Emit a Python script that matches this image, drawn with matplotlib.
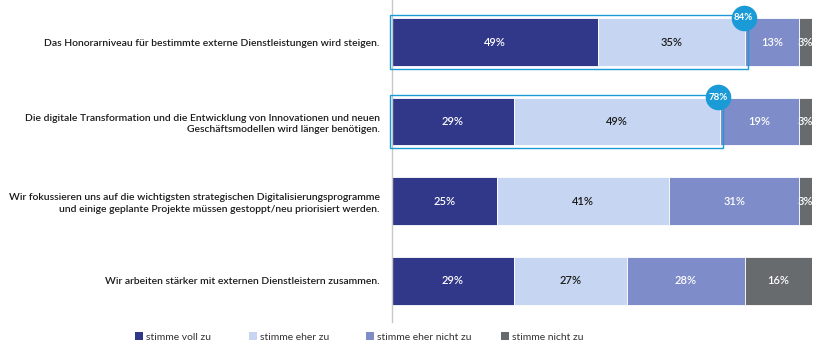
import matplotlib
matplotlib.use("Agg")
import matplotlib.pyplot as plt
from matplotlib.patches import Rectangle, Patch

plt.rcParams['font.family'] = ['Lato', 'DejaVu Sans']

categories = [
    "Das Honorarniveau für bestimmte externe Dienstleistungen wird steigen.",
    "Die digitale Transformation und die Entwicklung von Innovationen und neuen\nGeschäftsmodellen wird länger benötigen.",
    "Wir fokussieren uns auf die wichtigsten strategischen Digitalisierungsprogramme\nund einige geplante Projekte müssen gestoppt/neu priorisiert werden.",
    "Wir arbeiten stärker mit externen Dienstleistern zusammen.",
]
series_names = ["stimme voll zu", "stimme eher zu", "stimme eher nicht zu", "stimme nicht zu"]
voll_zu = [49, 29, 25, 29]
eher_zu = [35, 49, 41, 27]
eher_nicht_zu = [13, 19, 31, 28]
nicht_zu = [3, 3, 3, 16]
highlight_totals = [84, 78]  # for first two rows

colors = ["#31388a", "#c6d6f2", "#7e8cc9", "#676b6d"]
text_colors = ["white", "#1a1a1a", "white", "white"]

fig = plt.figure(figsize=(8.13, 3.55), dpi=100)
W, H = 813, 355
ax = fig.add_axes([392 / W, 1 - 322 / H, 420 / W, 322 / H])

series = [voll_zu, eher_zu, eher_nicht_zu, nicht_zu]
ys = list(range(len(categories)))
bh = 0.6
left = [0] * len(categories)
for s, vals in enumerate(series):
    ax.barh(ys, vals, left=left, height=bh, color=colors[s], edgecolor="white", linewidth=0.6)
    for i, v in enumerate(vals):
        ax.text(left[i] + v / 2, ys[i], f"{v}%", ha="center", va="center",
                color=text_colors[s], fontsize=8, fontweight="semibold")
    left = [l + v for l, v in zip(left, vals)]

# highlight boxes
for i, tot in enumerate(highlight_totals):
    pad = 0.035
    ax.add_patch(Rectangle((-0.5, ys[i] - bh / 2 - pad), tot + 1.3, bh + 2 * pad,
                           fill=False, edgecolor="#1b9ad8", linewidth=1.0, clip_on=False, zorder=5))
    ax.scatter([tot - 0.3], [ys[i] - bh / 2 - pad + 0.03], s=340, color="#1b9ad8",
               zorder=6, clip_on=False, linewidths=0)
    ax.text(tot - 0.3, ys[i] - bh / 2 - pad + 0.03, f"{tot}%", ha="center", va="center",
            color="white", fontsize=7, fontweight="bold", zorder=7)

ax.set_xlim(0, 100)
ax.set_ylim(3.52, -0.528)
for sp in ["top", "right", "bottom"]:
    ax.spines[sp].set_visible(False)
ax.spines["left"].set_color("#c8c8c8")
ax.spines["left"].set_linewidth(1.0)
ax.set_xticks([])
ax.set_yticks(ys)
ax.set_yticklabels(categories, fontsize=7.5, color="#1a1a1a", fontweight="semibold")
ax.tick_params(axis="y", length=0, pad=9)
for lab in ax.get_yticklabels():
    lab.set_horizontalalignment("right")
    lab.set_multialignment("right")
    lab.set_linespacing(1.35)

legend_x = [135, 249, 366, 501]
for name, c, x in zip(series_names, colors, legend_x):
    fig.legend([Patch(facecolor=c, edgecolor="none")], [name], loc="center left",
               bbox_to_anchor=(x / W, 1 - 337 / H), frameon=False, fontsize=7.5,
               handlelength=0.75, handleheight=0.75, handletextpad=0.3,
               borderaxespad=0, borderpad=0, labelcolor="#333333")

fig.savefig("out.png", dpi=100)
